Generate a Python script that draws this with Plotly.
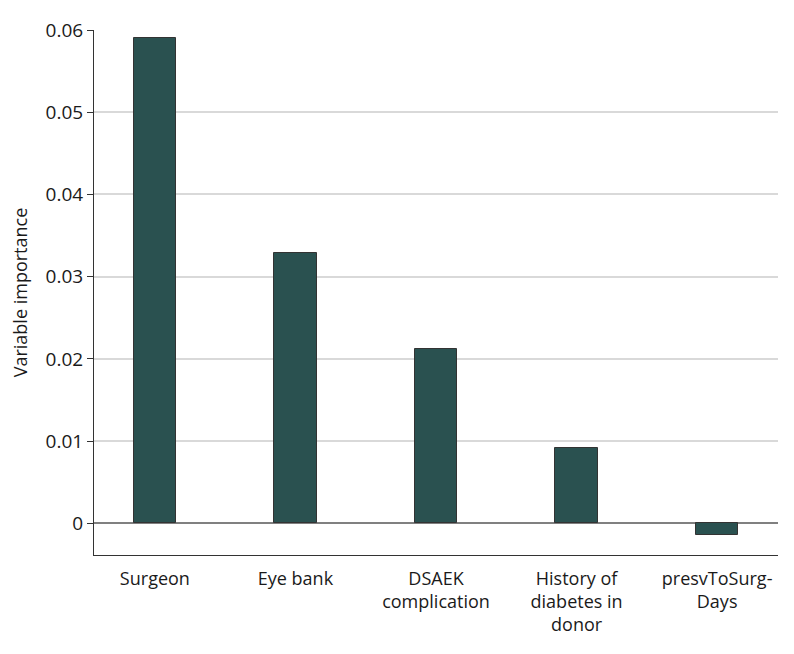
import plotly.graph_objects as go

categories = ["Surgeon", "Eye bank", "DSAEK<br>complication", "History of<br>diabetes in<br>donor", "presvToSurg-<br>Days"]
importance = [0.059, 0.0329, 0.0212, 0.0092, -0.0014]
y_ticks = [0, 0.01, 0.02, 0.03, 0.04, 0.05, 0.06]
y_ticktext = ["0", "0.01", "0.02", "0.03", "0.04", "0.05", "0.06"]

FONT = "Open Sans"

fig = go.Figure(go.Bar(
    x=list(range(len(categories))),
    y=importance,
    width=0.3,
    marker=dict(color="#2a5150", line=dict(color="#333333", width=1)),
))

fig.update_layout(
    width=786, height=646,
    margin=dict(l=86, r=16, t=22, b=99),
    plot_bgcolor="white", paper_bgcolor="white",
    font=dict(family=FONT, size=18, color="#1a1a1a"),
    showlegend=False,
    bargap=0,
)
fig.update_xaxes(
    tickmode="array", tickvals=list(range(len(categories))), ticktext=categories,
    range=[-0.433, 4.433], automargin=False,
    showgrid=False, zeroline=False,
    showline=True, linecolor="#333333", linewidth=1,
    ticks="", ticklabelstandoff=7,
    tickfont=dict(family=FONT, size=18),
)
fig.update_yaxes(
    range=[-0.00384, 0.06], automargin=False,
    tickmode="array", tickvals=y_ticks, ticktext=y_ticktext,
    showgrid=True, gridcolor="#d9d9d9", gridwidth=1.5,
    zeroline=True, zerolinecolor="#808080", zerolinewidth=1.5,
    showline=True, linecolor="#333333", linewidth=1,
    ticks="outside", ticklen=6, tickcolor="#333333",
    tickfont=dict(family=FONT, size=19),
    title=dict(text="Variable importance", font=dict(family=FONT, size=18), standoff=14),
)

fig.write_html("out.html")
